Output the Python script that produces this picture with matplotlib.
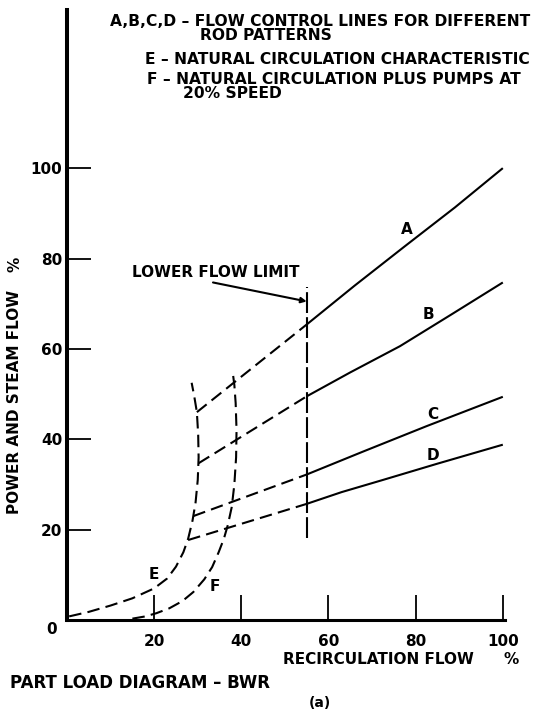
import matplotlib
matplotlib.use('Agg')
import matplotlib.pyplot as plt

# flow control lines, solid part (above lower flow limit)
a_flow = [55, 66, 77.5, 89, 100]
a_power = [65.4, 74, 82.7, 91.3, 100]
b_flow = [55, 65, 76.4, 88, 100]
b_power = [49.5, 54.8, 60.6, 67.5, 74.7]
c_flow = [55, 68, 82.5, 100]
c_power = [32.2, 37.3, 42.9, 49.4]
d_flow = [55, 63, 72.5, 85, 100]
d_power = [25.7, 28.3, 31.0, 34.6, 38.8]

# dashed part of the flow control lines (below lower flow limit)
a_dash_flow = [29.8, 55]
a_dash_power = [46, 65.4]
b_dash_flow = [30.2, 55]
b_dash_power = [34.7, 49.5]
c_dash_flow = [29.0, 55]
c_dash_power = [23.0, 32.2]
d_dash_flow = [27.8, 55]
d_dash_power = [17.7, 25.7]

# E - natural circulation characteristic
e_flow = [0.5, 5, 10, 15, 20, 23, 25, 26.7, 27.8, 28.8, 29.5, 30.0, 30.2, 30.1, 29.8, 29.2, 28.6]
e_power = [0.8, 1.8, 3.2, 4.8, 7.0, 9.2, 11.8, 15, 18, 22, 26, 31, 36, 41, 46, 49.5, 52.5]

# F - natural circulation plus pumps at 20% speed
f_flow = [15, 18, 20.5, 23.5, 26.5, 29, 31.5, 33.3, 34.8, 36, 36.9, 37.8, 38.4, 38.8, 38.9, 38.7, 38.4, 38.0]
f_power = [0.3, 0.8, 1.5, 2.6, 4.2, 6.2, 9, 11.7, 15, 18, 21, 25, 30, 36, 42, 48, 52, 55]

# lower flow limit
limit_flow = [55, 55]
limit_power = [18.2, 73.6]

curve_labels = ['A', 'B', 'C', 'D', 'E', 'F']
label_flow = [78, 83, 84, 84, 20, 34]
label_power = [86.5, 67.5, 45.5, 36.5, 10, 7.4]

ticks = [20, 40, 60, 80, 100]

W, H = 533, 713
fig = plt.figure(figsize=(W / 100, H / 100), dpi=100)
ax = fig.add_axes([67 / W, 1 - 620 / H, 438 / W, 610 / H])

font = dict(family='DejaVu Sans', weight='bold', size=11)


def ftext(px, py, s, **kw):
    args = dict(font)
    args.update(kw)
    fig.text(px / W, 1 - py / H, s, **args)


dash = (0, (6, 3))
lw = 1.5
for x, y in [(a_flow, a_power), (b_flow, b_power), (c_flow, c_power), (d_flow, d_power)]:
    ax.plot(x, y, color='black', lw=lw, solid_capstyle='butt')
for x, y in [(a_dash_flow, a_dash_power), (b_dash_flow, b_dash_power),
             (c_dash_flow, c_dash_power), (d_dash_flow, d_dash_power),
             (e_flow, e_power), (f_flow, f_power)]:
    ax.plot(x, y, color='black', lw=lw, linestyle=dash)
ax.plot(limit_flow, limit_power, color='black', lw=1.5, linestyle=(0, (10, 2)))

for s, x, y in zip(curve_labels, label_flow, label_power):
    ax.text(x, y, s, ha='center', va='center', **font)

ax.annotate('LOWER FLOW LIMIT', xy=(55, 70.5), xytext=(14.9, 77),
            ha='left', va='center', **font)
ax.annotate('', xy=(55, 70.5), xytext=(33.5, 74.7),
            arrowprops=dict(arrowstyle='-|>', color='black', lw=1.5,
                            mutation_scale=8, shrinkA=0, shrinkB=0))

ax.set_xlim(0, 100.5)
ax.set_ylim(0, 135)
ax.set_xticks(ticks)
ax.set_yticks(ticks)
ax.set_xticklabels([str(t) for t in ticks], **font)
ax.set_yticklabels([str(t) for t in ticks], **font)
ax.tick_params(axis='x', direction='in', length=18, width=1.3, pad=10)
ax.tick_params(axis='y', direction='in', length=17, width=1.3, pad=3.5)
for side in ['top', 'right']:
    ax.spines[side].set_visible(False)
ax.spines['left'].set_linewidth(2.9)
ax.spines['bottom'].set_linewidth(2.2)

# axis texts
ftext(52, 630, '0', ha='center', va='center')
ftext(15, 402, 'POWER AND STEAM FLOW', rotation=90, ha='center', va='center')
ftext(15, 264, '%', rotation=90, ha='center', va='center')
ftext(283, 660, 'RECIRCULATION FLOW', ha='left', va='center')
ftext(511, 660, '%', ha='center', va='center')
ftext(10, 683, 'PART LOAD DIAGRAM \u2013 BWR', ha='left', va='center', size=12)
ftext(320, 703, '(a)', ha='center', va='center', size=10)

# key at top
key = dict(ha='left', va='center', size=11.2)
ftext(110, 21, 'A,B,C,D \u2013 FLOW CONTROL LINES FOR DIFFERENT', **key)
ftext(200, 35, 'ROD PATTERNS', **key)
ftext(145, 59, 'E \u2013 NATURAL CIRCULATION CHARACTERISTIC', **key)
ftext(147, 80, 'F \u2013 NATURAL CIRCULATION PLUS PUMPS AT', **key)
ftext(183, 94, '20% SPEED', **key)

fig.savefig('out.png', dpi=100)
